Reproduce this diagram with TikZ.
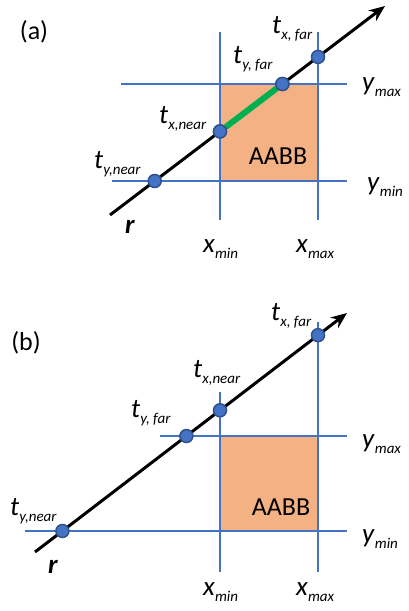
\documentclass[tikz,border=0pt]{standalone}
\usepackage{fontspec}
\setmainfont{Carlito}
\usetikzlibrary{arrows.meta}
\definecolor{gridblue}{HTML}{4472C4}
\definecolor{ptedge}{HTML}{2F528F}
\definecolor{boxfill}{HTML}{F4B183}
\definecolor{hitgreen}{HTML}{00B050}
\newcommand{\tsub}[2]{\textit{#1}\raisebox{-6.5pt}{\fontsize{15}{15}\selectfont\itshape #2}}

\begin{document}
\begin{tikzpicture}[x=1pt,y=-1pt,
    gridline/.style={gridblue,line width=2pt},
    ray/.style={line width=3pt,-{Stealth[length=16pt,width=13pt]}},
    hit/.style={circle,fill=gridblue,draw=ptedge,line width=1.5pt,minimum size=13pt,inner sep=0pt},
    lab/.style={anchor=base west,inner sep=0pt,font=\fontsize{27}{27}\selectfont},
    txt/.style={inner sep=0pt,font=\fontsize{26}{26}\selectfont}]
\useasboundingbox (0,0) rectangle (408,611);
% (a) ray leaves the box after entering it
\fill[boxfill] (220,84) rectangle (318,181);
\draw[gridline] (220,32) -- (220,220);
\draw[gridline] (318,32) -- (318,220);
\draw[gridline] (121,84) -- (347,84);
\draw[gridline] (112,181) -- (347,181);
\coordinate (ra0) at (110,215);
\coordinate (ra1) at (385,6);
\draw[ray] (ra0) -- (ra1);
\node[hit] (tynA) at (154.7,181) {};
\node[hit] (txnA) at (220,131.4) {};
\node[hit] (tyfA) at (282.4,84) {};
\node[hit] (txfA) at (318,56.9) {};
\draw[hitgreen,line width=6pt] (txnA) -- (tyfA);
\node[hit] at (txnA) {};
\node[hit] at (tyfA) {};
\node[txt] (capA) at (34,32) {(a)};
\node[txt] (boxA) at (278,156) {AABB};
\node[lab] (ltxfA) at (272,33) {\tsub{t}{x, far}};
\node[lab] (ltyfA) at (233,63) {\tsub{t}{y, far}};
\node[lab] (ltxnA) at (159,123) {\tsub{t}{x,near}};
\node[lab] (ltynA) at (94,168) {\tsub{t}{y,near}};
\node[lab] (lymaxA) at (362,90) {\tsub{y}{max}};
\node[lab] (lyminA) at (367,190) {\tsub{y}{min}};
\node[lab] (lxminA) at (203,252) {\tsub{x}{min}};
\node[lab] (lxmaxA) at (296,252) {\tsub{x}{max}};
\node[lab] (lrA) at (125,233) {\textbf{\textit{r}}};
% (b) ray misses the box
\fill[boxfill] (220,436) rectangle (318,531);
\draw[gridline] (220,392) -- (220,572);
\draw[gridline] (318,322) -- (318,572);
\draw[gridline] (160,436) -- (347,436);
\draw[gridline] (25,531) -- (347,531);
\coordinate (rb0) at (35,552);
\coordinate (rb1) at (347,313);
\draw[ray] (rb0) -- (rb1);
\node[hit] (tynB) at (62.4,531) {};
\node[hit] (tyfB) at (186.4,436) {};
\node[hit] (txnB) at (220,410.3) {};
\node[hit] (txfB) at (318,335.2) {};
\node[txt] (capB) at (26,343) {(b)};
\node[txt] (boxB) at (281,507) {AABB};
\node[lab] (ltxfB) at (271,320) {\tsub{t}{x, far}};
\node[lab] (ltxnB) at (193,377) {\tsub{t}{x,near}};
\node[lab] (ltyfB) at (131,417) {\tsub{t}{y, far}};
\node[lab] (ltynB) at (10,515) {\tsub{t}{y,near}};
\node[lab] (lymaxB) at (362,447) {\tsub{y}{max}};
\node[lab] (lyminB) at (362,542) {\tsub{y}{min}};
\node[lab] (lxminB) at (203,595) {\tsub{x}{min}};
\node[lab] (lxmaxB) at (296,595) {\tsub{x}{max}};
\node[lab] (lrB) at (48,573) {\textbf{\textit{r}}};
\end{tikzpicture}
\end{document}
